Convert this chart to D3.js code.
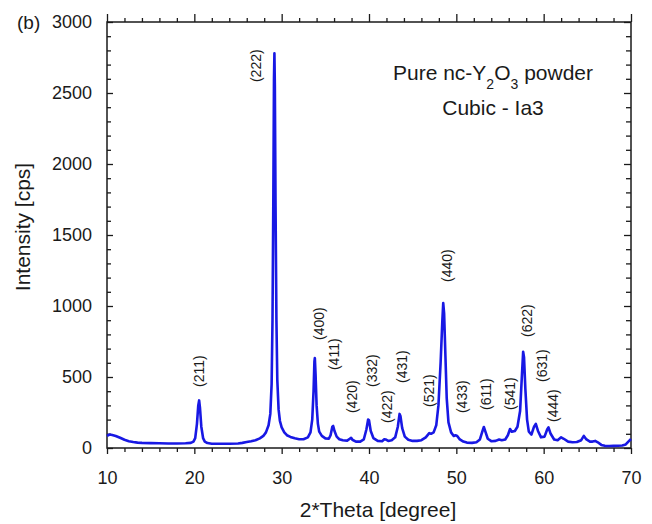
<!DOCTYPE html>
<html>
<head>
<meta charset="utf-8">
<script src="https://cdn.jsdelivr.net/npm/d3@7"></script>
<style>
  body { margin: 0; background: #fff; }
  svg text { font-family: "Liberation Sans", Arial, sans-serif; fill: #1a1a1a; }
</style>
</head>
<body>
<svg id="xrd" width="652" height="524"></svg>
<script>
// XRD pattern
var twoTheta = [10.0, 10.3, 10.6, 11.0, 11.5, 12.0, 12.5, 13.0, 13.5, 14.0, 15.0, 16.0, 17.0, 18.0, 19.0, 19.6, 19.9,
  20.1, 20.3, 20.45, 20.55, 20.65, 20.8, 21.0, 21.2, 21.5, 22.0, 23.0, 24.0, 25.0, 25.5, 26.0, 26.5, 27.0, 27.5, 27.9,
  28.2, 28.5, 28.7, 28.85, 28.95, 29.05, 29.12, 29.17, 29.22, 29.3, 29.4, 29.5, 29.65, 29.8, 30.0, 30.3, 30.6, 31.0,
  31.5, 32.0, 32.5, 33.0, 33.3, 33.5, 33.65, 33.75, 33.8, 33.88, 34.0, 34.15, 34.3, 34.6, 35.0, 35.4, 35.6, 35.8, 35.9,
  36.05, 36.3, 36.6, 37.0, 37.5, 37.8, 37.95, 38.1, 38.5, 39.0, 39.4, 39.7, 39.9, 40.0, 40.2, 40.5, 41.0, 41.5, 41.75,
  41.9, 42.2, 42.6, 43.0, 43.3, 43.5, 43.6, 43.8, 44.1, 44.5, 45.0, 45.5, 46.0, 46.5, 46.9, 47.1, 47.4, 47.7, 47.95,
  48.2, 48.4, 48.5, 48.6, 48.75, 48.9, 49.1, 49.4, 49.7, 49.9, 50.1, 50.4, 50.8, 51.2, 51.8, 52.3, 52.7, 53.0, 53.15,
  53.3, 53.6, 54.0, 54.5, 54.9, 55.2, 55.6, 55.9, 56.15, 56.35, 56.7, 57.0, 57.3, 57.5, 57.65, 57.75, 57.9, 58.1, 58.3,
  58.6, 58.9, 59.1, 59.35, 59.7, 60.1, 60.4, 60.55, 60.8, 61.2, 61.6, 62.0, 62.3, 62.8, 63.3, 63.8, 64.3, 64.6, 64.9,
  65.3, 65.6, 65.9, 66.2, 66.6, 67.0, 67.5, 68.0, 68.5, 69.0, 69.4, 69.7, 70.0];
var intensity = [85, 95, 92, 85, 72, 58, 48, 42, 38, 36, 34, 33, 32, 32, 33, 36, 45,
  70, 170, 300, 335, 280, 150, 70, 45, 35, 30, 30, 30, 32, 36, 42, 48, 55, 68, 85,
  110, 160, 240, 450, 900, 1800, 2600, 2780, 2550, 1700, 900, 480, 270, 190, 145, 110, 90, 78,
  68, 62, 62, 75, 110, 200, 400, 610, 634, 520, 300, 170, 115, 85, 68, 65, 90, 150, 155,
  120, 80, 62, 55, 52, 65, 72, 58, 45, 45, 60, 130, 200, 195, 120, 70, 50, 48, 62,
  60, 50, 55, 75, 150, 240, 225, 140, 80, 58, 50, 50, 55, 75, 105, 100, 110, 160, 300,
  600, 900, 1020, 950, 650, 350, 180, 110, 85, 90, 85, 60, 45, 38, 36, 40, 60, 120, 148,
  120, 65, 48, 50, 60, 55, 60, 90, 134, 115, 120, 150, 260, 500, 678, 640, 420, 200, 115,
  95, 150, 170, 120, 75, 80, 130, 145, 100, 60, 55, 75, 65, 45, 40, 42, 55, 85, 60,
  45, 45, 50, 40, 22, 15, 14, 15, 16, 18, 25, 45, 63];

// reflection labels: name, 2theta of the label, intensity at the foot of the label
var hklNames = ["(211)", "(222)", "(400)", "(411)", "(420)", "(332)", "(422)", "(431)", "(521)", "(440)",
  "(433)", "(611)", "(541)", "(622)", "(631)", "(444)"];
var hklTheta = [20.55, 27.1, 34.3, 36.0, 38.1, 40.3, 42.1, 43.8, 46.9, 48.9, 50.7, 53.4, 56.2, 58.1, 59.8, 61.05];
var hklFoot = [430, 2577, 761, 549, 246, 430, 176, 458, 289, 1169, 246, 268, 268, 782, 465, 183];

var xMajor = [10, 20, 30, 40, 50, 60, 70];
var yMajor = [0, 500, 1000, 1500, 2000, 2500, 3000];

var svg = d3.select("#xrd");
var plotLeft = 107, plotRight = 631, plotTop = 22, plotBottom = 448;

var x = d3.scaleLinear().domain([10, 70]).range([plotLeft, plotRight]);
var y = d3.scaleLinear().domain([0, 3000]).range([plotBottom, plotTop]);

var xMinor = d3.range(10, 70.1, 2).filter(function(v) { return v % 10 !== 0; });
var yMinor = d3.range(0, 3001, 100).filter(function(v) { return v % 500 !== 0; });

function styleAxis(g) {
  g.select(".domain").remove();
  g.selectAll("line").attr("stroke", "#1a1a1a").attr("stroke-width", 1.3);
  g.selectAll("text").attr("fill", "#1a1a1a").style("font-size", "18px");
}

// bottom
svg.append("g").attr("transform", "translate(0," + plotBottom + ")")
  .call(d3.axisBottom(x).tickValues(xMajor).tickSize(6).tickPadding(17).tickFormat(d3.format("d")))
  .call(styleAxis);
svg.append("g").attr("transform", "translate(0," + plotBottom + ")")
  .call(d3.axisBottom(x).tickValues(xMinor).tickSize(4).tickFormat(""))
  .call(styleAxis);
// top
svg.append("g").attr("transform", "translate(0," + plotTop + ")")
  .call(d3.axisTop(x).tickValues(xMajor).tickSize(8).tickFormat(""))
  .call(styleAxis);
svg.append("g").attr("transform", "translate(0," + plotTop + ")")
  .call(d3.axisTop(x).tickValues(xMinor).tickSize(4).tickFormat(""))
  .call(styleAxis);
// left, ticks pointing in
svg.append("g").attr("transform", "translate(" + plotLeft + ",0)")
  .call(d3.axisLeft(y).tickValues(yMajor).tickSize(-6).tickPadding(15).tickFormat(d3.format("d")))
  .call(styleAxis);
svg.append("g").attr("transform", "translate(" + plotLeft + ",0)")
  .call(d3.axisLeft(y).tickValues(yMinor).tickSize(-4).tickFormat(""))
  .call(styleAxis);
// right, ticks pointing in
svg.append("g").attr("transform", "translate(" + plotRight + ",0)")
  .call(d3.axisRight(y).tickValues(yMajor).tickSize(-7).tickFormat(""))
  .call(styleAxis);
svg.append("g").attr("transform", "translate(" + plotRight + ",0)")
  .call(d3.axisRight(y).tickValues(yMinor).tickSize(-5).tickFormat(""))
  .call(styleAxis);

// frame
svg.append("rect")
  .attr("x", plotLeft).attr("y", plotTop)
  .attr("width", plotRight - plotLeft).attr("height", plotBottom - plotTop)
  .attr("fill", "none").attr("stroke", "#1a1a1a").attr("stroke-width", 1.5);

// the pattern
var line = d3.line()
  .x(function(d, i) { return x(twoTheta[i]); })
  .y(function(d) { return y(d); });
svg.append("path")
  .datum(intensity)
  .attr("d", line)
  .attr("fill", "none")
  .attr("stroke", "#1818e4")
  .attr("stroke-width", 2.6)
  .attr("stroke-linejoin", "round");

// hkl labels
svg.selectAll(".hkl")
  .data(hklNames)
  .enter()
  .append("text")
  .attr("class", "hkl")
  .attr("transform", function(d, i) {
    return "translate(" + x(hklTheta[i]) + "," + y(hklFoot[i]) + ") rotate(-90)";
  })
  .attr("dy", "0.35em")
  .style("font-size", "14px")
  .text(function(d) { return d; });

// panel letter
svg.append("text").attr("x", 17).attr("y", 29).style("font-size", "19px").text("(b)");

// axis titles
svg.append("text")
  .attr("x", 378).attr("y", 517)
  .attr("text-anchor", "middle")
  .style("font-size", "21px")
  .text("2*Theta [degree]");
svg.append("text")
  .attr("transform", "translate(30,227) rotate(-90)")
  .attr("text-anchor", "middle")
  .style("font-size", "21px")
  .text("Intensity [cps]");

// sample note
var note = svg.append("text")
  .attr("x", 493).attr("y", 80)
  .attr("text-anchor", "middle")
  .style("font-size", "21px");
note.append("tspan").text("Pure nc-Y");
note.append("tspan").attr("dy", 9).style("font-size", "14px").text("2");
note.append("tspan").attr("dy", -9).text("O");
note.append("tspan").attr("dy", 9).style("font-size", "14px").text("3");
note.append("tspan").attr("dy", -9).text(" powder");
svg.append("text")
  .attr("x", 493).attr("y", 115)
  .attr("text-anchor", "middle")
  .style("font-size", "21px")
  .text("Cubic - Ia3");
</script>
</body>
</html>
